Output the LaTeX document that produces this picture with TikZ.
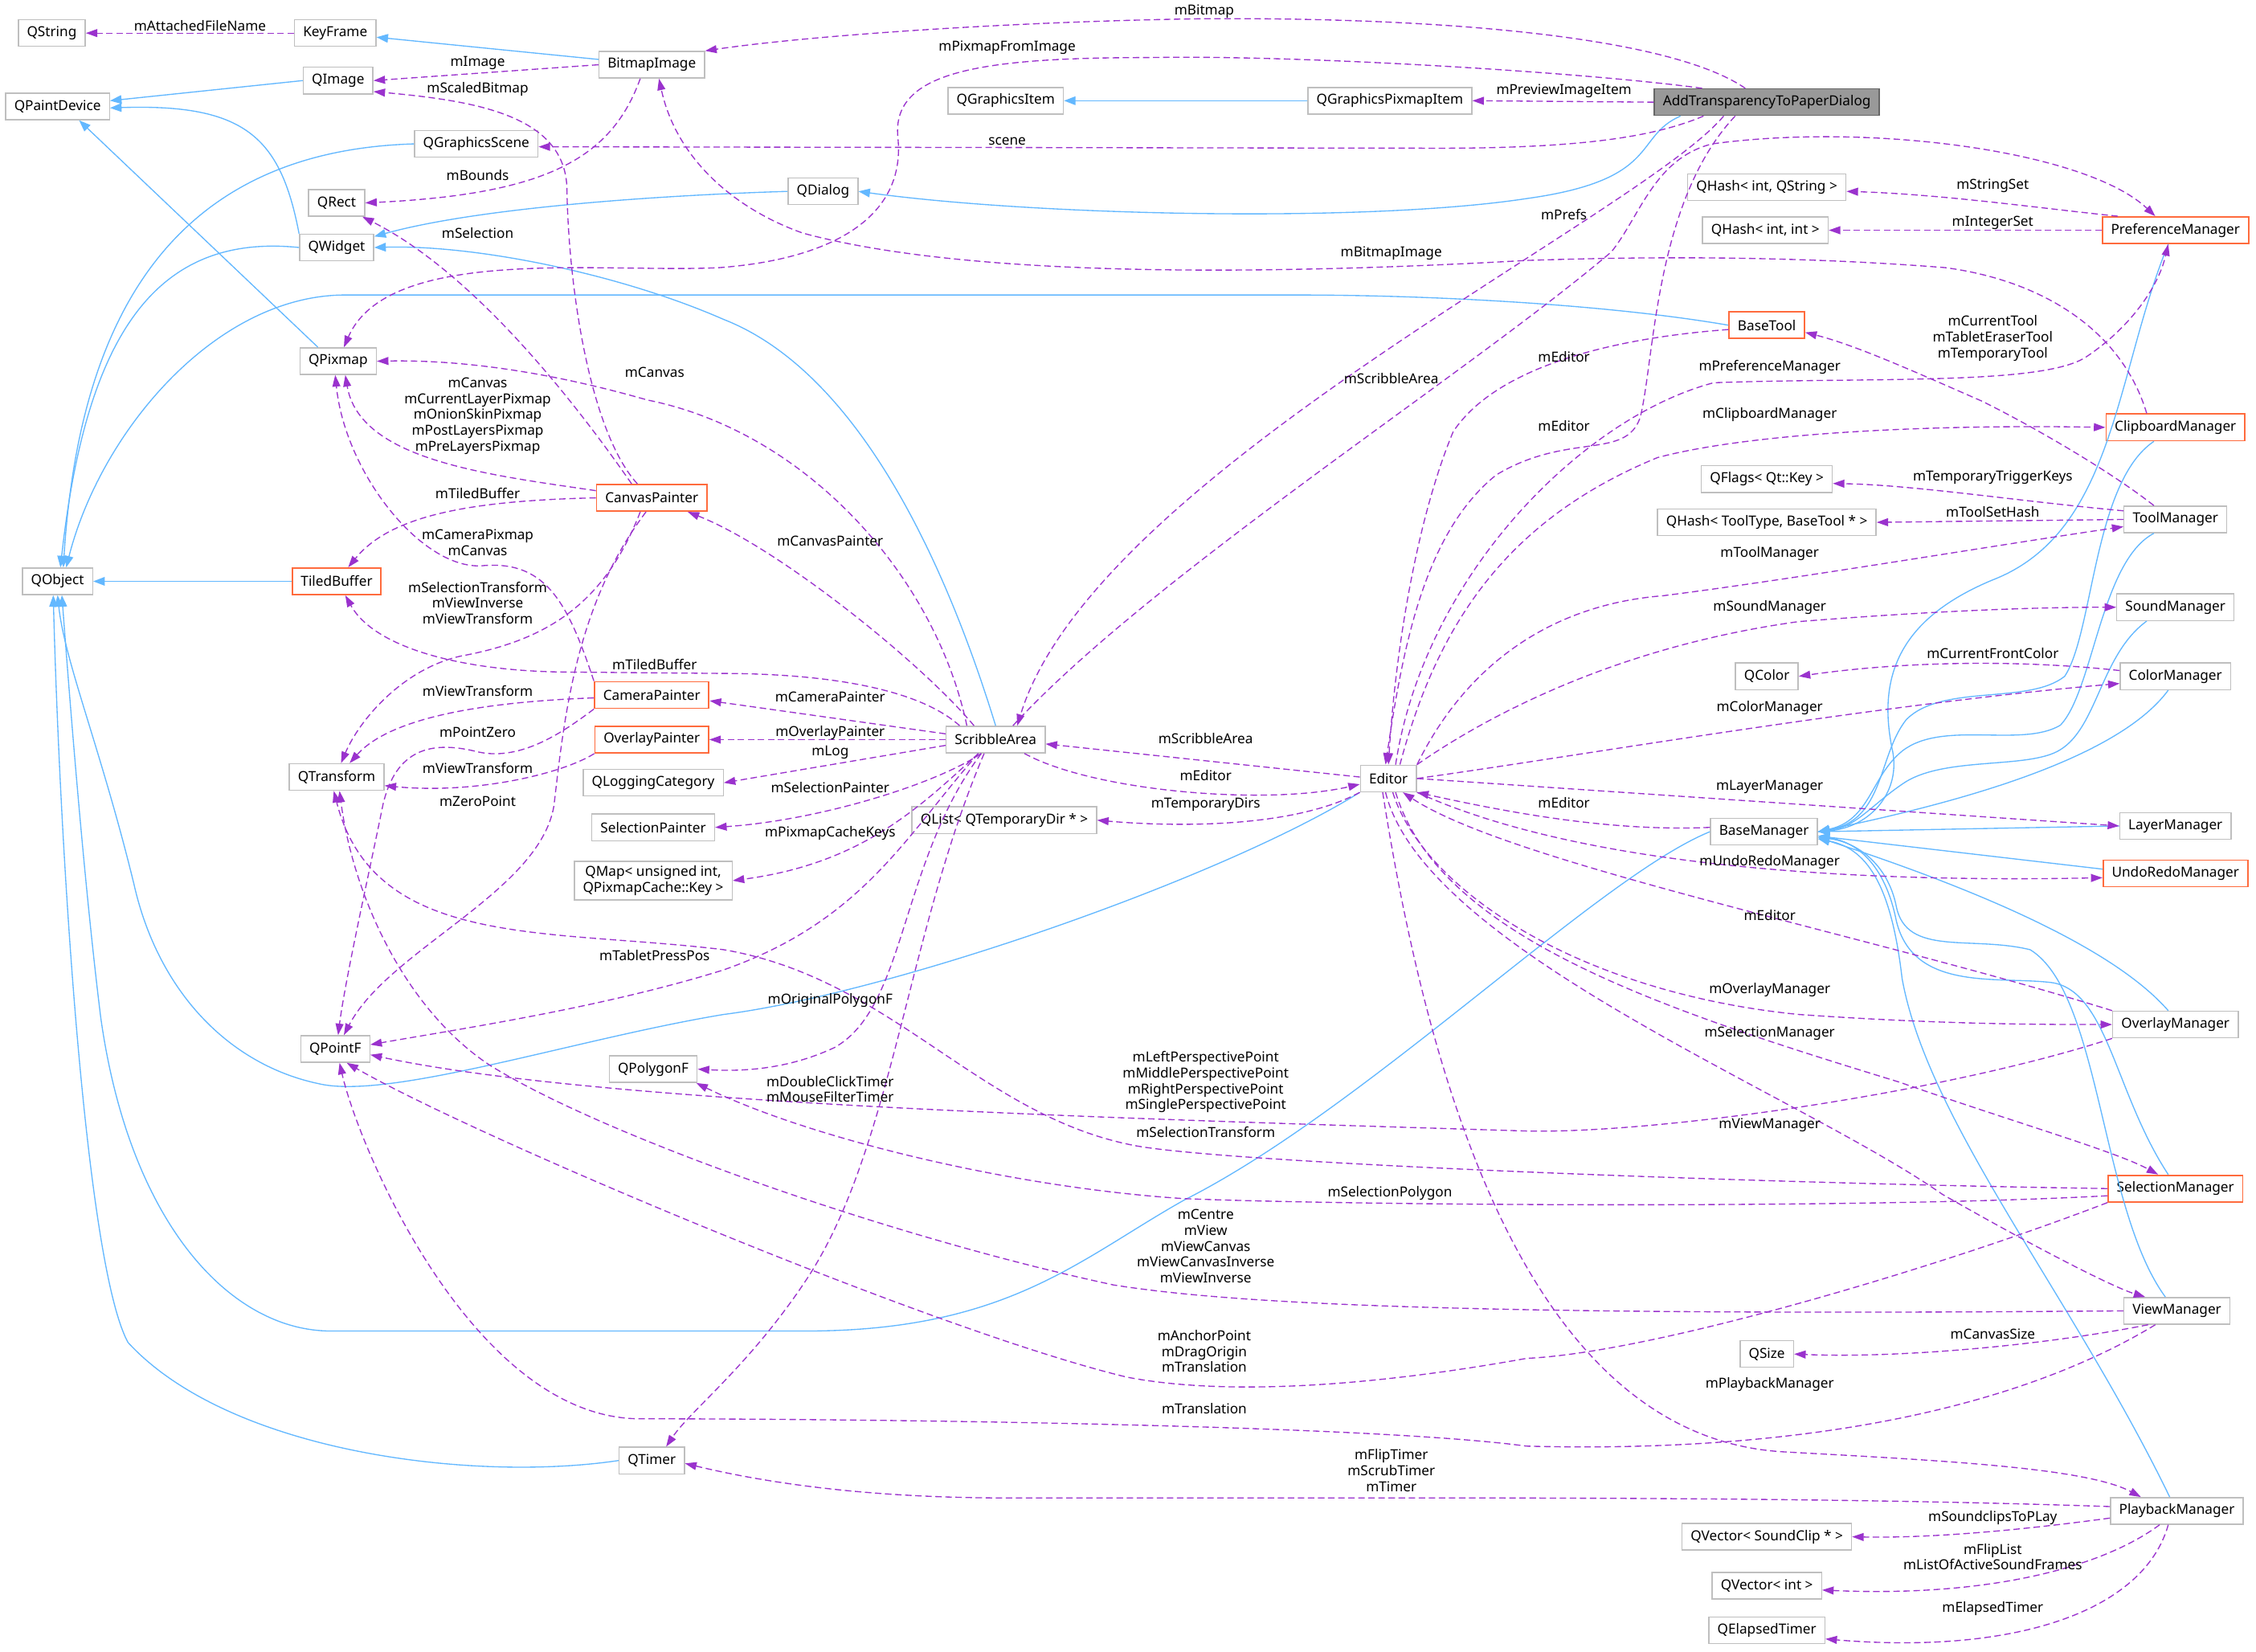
\documentclass[tikz,border=0pt]{standalone}
\usepackage{fontspec}
\setmainfont{Noto Sans}
\usetikzlibrary{arrows.meta}
\definecolor{inhblue}{HTML}{63B8FF}
\definecolor{usepurple}{HTML}{9A32CD}
\definecolor{boxgray}{HTML}{BFBFBF}
\definecolor{boxred}{HTML}{FF6B3D}
\definecolor{mainfill}{HTML}{999999}
\definecolor{mainline}{HTML}{666666}
\begin{document}
\begin{tikzpicture}[x=1pt,y=-1pt,font=\fontsize{9.6}{11}\selectfont,
cls/.style={draw=boxgray,line width=0.8pt,fill=white,inner xsep=6pt,inner ysep=2pt,minimum height=18.5pt},
clsred/.style={cls,draw=boxred,line width=1pt},
clsmain/.style={cls,draw=mainline,fill=mainfill},
lbl/.style={align=center,inner sep=0pt},
inh/.style={draw=inhblue,line width=0.75pt,-{Triangle[length=8pt,width=6pt]}},
use/.style={draw=usepurple,line width=0.75pt,dash pattern=on 4.5pt off 2.5pt,-{Triangle[length=8pt,width=5.5pt]}}]
\useasboundingbox (0,0) rectangle (1568,1148);
\fill[white] (0,0) rectangle (1568,1148);
% classes
\node[cls] (qstring) at (36,23) {QString};
\node[cls] (keyframe) at (233,23) {KeyFrame};
\node[cls] (bitmap) at (453,45) {BitmapImage};
\node[cls] (qimage) at (235,56) {QImage};
\node[cls] (qpaintdev) at (40,74) {QPaintDevice};
\node[cls] (qgitem) at (699,70) {QGraphicsItem};
\node[cls] (qgpixitem) at (966,70) {QGraphicsPixmapItem};
\node[clsmain] (atpd) at (1228,71) {AddTransparencyToPaperDialog};
\node[cls] (qgscene) at (331,100) {QGraphicsScene};
\node[cls] (qrect) at (234,141) {QRect};
\node[cls] (qdialog) at (572,133) {QDialog};
\node[cls] (qwidget) at (234,172) {QWidget};
\node[cls] (qhashstr) at (1228,130) {QHash< int, QString >};
\node[cls] (qhashint) at (1227,160) {QHash< int, int >};
\node[clsred] (prefmgr) at (1512,160) {PreferenceManager};
\node[clsred] (basetool) at (1228,226) {BaseTool};
\node[cls] (qpixmap) at (235,251) {QPixmap};
\node[clsred] (clipmgr) at (1512,297) {ClipboardManager};
\node[clsred] (canvaspnt) at (453,346) {CanvasPainter};
\node[cls] (qflags) at (1228,333) {QFlags< Qt::Key >};
\node[cls] (qhashtool) at (1228,363) {QHash< ToolType, BaseTool * >};
\node[cls] (toolmgr) at (1512,361) {ToolManager};
\node[cls] (qobject) at (40,404) {QObject};
\node[clsred] (tiledbuf) at (234,404) {TiledBuffer};
\node[cls] (soundmgr) at (1512,422) {SoundManager};
\node[cls] (qcolor) at (1228,470) {QColor};
\node[cls] (colormgr) at (1512,470) {ColorManager};
\node[clsred] (camerapnt) at (453,483) {CameraPainter};
\node[clsred] (overlaypnt) at (453,514) {OverlayPainter};
\node[cls] (scribble) at (692,514) {ScribbleArea};
\node[cls] (editor) at (965,541) {Editor};
\node[cls] (qtransform) at (234,540) {QTransform};
\node[cls] (qlogcat) at (454,544) {QLoggingCategory};
\node[cls] (selpnt) at (454,575) {SelectionPainter};
\node[cls] (qlisttmp) at (698,570) {QList< QTemporaryDir * >};
\node[cls] (basemgr) at (1226,578) {BaseManager};
\node[cls] (layermgr) at (1512,574) {LayerManager};
\node[clsred] (undomgr) at (1512,607) {UndoRedoManager};
\node[cls,align=center,inner ysep=3pt] (qmap) at (454,612) {QMap< unsigned int,\\QPixmapCache::Key >};
\node[cls] (qpointf) at (233,729) {QPointF};
\node[cls] (qpolygonf) at (454,743) {QPolygonF};
\node[cls] (overlaymgr) at (1512,712) {OverlayManager};
\node[clsred] (selmgr) at (1512,826) {SelectionManager};
\node[cls] (viewmgr) at (1513,911) {ViewManager};
\node[cls] (qsize) at (1228,941) {QSize};
\node[cls] (qtimer) at (453,1015) {QTimer};
\node[cls] (playmgr) at (1513,1050) {PlaybackManager};
\node[cls] (qvecsnd) at (1228,1068) {QVector< SoundClip * >};
\node[cls] (qvecint) at (1228,1102) {QVector< int >};
\node[cls] (qelapsed) at (1228,1133) {QElapsedTimer};
% inheritance
\draw[inh] (bitmap) -- (keyframe);
\draw[inh] (qimage.west) -- ([yshift=4pt]qpaintdev.east);
\draw[inh] (qwidget.north west) .. controls (195,95) and (170,72) .. ([yshift=-1pt]qpaintdev.east);
\draw[inh] ([xshift=-14pt]qpixmap.north) -- ([xshift=15pt]qpaintdev.south);
\draw[inh] (qgpixitem) -- (qgitem);
\draw[inh] (qgscene.west) .. controls (120,105) and (55,220) .. ([xshift=4pt]qobject.north);
\draw[inh] (qwidget.west) .. controls (110,162) and (60,230) .. ([xshift=2pt]qobject.north);
\draw[inh] (basetool.west) .. controls (1120,212) and (1000,205) .. (900,205) -- (240,205) .. controls (150,205) and (70,300) .. ([xshift=6pt]qobject.north);
\draw[inh] (tiledbuf) -- (qobject);
\draw[inh] (qdialog.west) .. controls (450,136) and (330,145) .. ([yshift=-2pt]qwidget.north east);
\draw[inh] ([xshift=-60pt]atpd.south) .. controls (1135,95) and (1155,125) .. (1061,138) .. controls (950,155) and (720,150) .. (qdialog.east);
\draw[inh] (scribble.north) .. controls (660,400) and (600,260) .. (503,222) .. controls (430,190) and (330,170) .. (qwidget.east);
\draw[inh] (editor.south west) .. controls (850,610) and (620,690) .. (503,705) .. controls (400,722) and (270,765) .. (221,753) .. controls (160,740) and (110,690) .. (93,614) .. controls (70,520) and (45,460) .. (qobject.south);
\draw[inh] (basemgr.west) .. controls (1110,610) and (950,770) .. (823,834) .. controls (750,875) and (700,925) .. (560,925) -- (230,925) .. controls (160,925) and (90,850) .. (70,707) .. controls (58,610) and (48,480) .. ([xshift=3pt]qobject.south);
\draw[inh] (qtimer.west) .. controls (330,1030) and (160,1010) .. (89,933) .. controls (60,880) and (42,600) .. ([xshift=-3pt]qobject.south);
\draw[inh] ([xshift=-5pt]prefmgr.south) .. controls (1470,260) and (1470,370) .. (1385,403) .. controls (1320,430) and (1305,470) .. (1315,520) .. controls (1322,550) and (1300,575) .. (basemgr.east);
\draw[inh] ([xshift=-15pt]clipmgr.south) .. controls (1455,335) and (1455,440) .. (1435,470) .. controls (1410,490) and (1350,475) .. (1325,500) .. controls (1305,525) and (1310,570) .. (basemgr.east);
\draw[inh] ([xshift=-15pt]toolmgr.south) .. controls (1460,390) and (1455,480) .. (1432,504) .. controls (1405,520) and (1350,500) .. (1322,522) .. controls (1300,540) and (1300,570) .. (basemgr.east);
\draw[inh] ([xshift=-20pt]soundmgr.south) .. controls (1460,455) and (1458,505) .. (1432,521) .. controls (1410,535) and (1350,525) .. (1322,545) .. controls (1300,560) and (1290,575) .. (basemgr.east);
\draw[inh] ([xshift=-5pt]colormgr.south) .. controls (1470,530) and (1350,560) .. (basemgr.east);
\draw[inh] (layermgr.west) -- (basemgr.east);
\draw[inh] ([yshift=3pt]undomgr.west) -- ([yshift=-3pt]basemgr.east);
\draw[inh] ([xshift=-5pt]overlaymgr.north) .. controls (1470,660) and (1380,620) .. ([yshift=-4pt]basemgr.east);
\draw[inh] ([xshift=-5pt]selmgr.north) .. controls (1470,760) and (1465,690) .. (1427,683) .. controls (1390,678) and (1330,690) .. (1318,640) .. controls (1310,600) and (1290,585) .. ([yshift=-3pt]basemgr.east);
\draw[inh] ([xshift=-8pt]viewmgr.north) .. controls (1460,840) and (1460,690) .. (1411,660) .. controls (1370,650) and (1325,665) .. (1318,630) .. controls (1312,600) and (1290,585) .. ([yshift=-4pt]basemgr.east);
\draw[inh] ([xshift=-5pt]playmgr.north) .. controls (1440,900) and (1340,780) .. (1322,680) .. controls (1315,620) and (1300,590) .. ([yshift=-5pt]basemgr.east);
% members, top
\draw[use] (keyframe) -- (qstring);
\draw[use] (bitmap.west) -- (qimage.east);
\draw[use] ([xshift=-10pt]canvaspnt.north) .. controls (410,300) and (395,200) .. (394,130) .. controls (392,80) and (330,70) .. ([yshift=2pt]qimage.south east);
\draw[use] ([xshift=-8pt]bitmap.south) .. controls (425,110) and (380,135) .. (qrect.east);
\draw[use] ([xshift=-15pt]atpd.north) .. controls (1160,25) and (1000,12) .. (837,13) .. controls (700,15) and (560,25) .. (bitmap.north east);
\draw[use] ([xshift=-45pt]atpd.north) .. controls (1100,50) and (900,38) .. (799,40) .. controls (680,40) and (620,50) .. (624,95) .. controls (630,150) and (580,180) .. (500,186) .. controls (420,190) and (270,170) .. ([xshift=4pt]qpixmap.north);
\draw[use] (atpd.west) -- (qgpixitem.east);
\draw[use] ([xshift=-44pt]atpd.south) .. controls (1150,95) and (1100,103) .. (1000,103) -- ([yshift=-2pt]qgscene.east);
\draw[use] ([xshift=12pt]scribble.north) .. controls (800,400) and (1020,260) .. (1120,175) .. controls (1140,150) and (1150,110) .. (1190,100) .. controls (1300,85) and (1450,105) .. ([xshift=-14pt]prefmgr.north);
\draw[use] ([xshift=-30pt]atpd.south) .. controls (1140,150) and (760,330) .. ([xshift=15pt]scribble.north);
\draw[use] ([xshift=-22pt]atpd.south) .. controls (1150,140) and (1150,250) .. (1140,290) .. controls (1130,320) and (1090,300) .. (1040,330) .. controls (990,370) and (975,450) .. ([xshift=-2pt]editor.north);
\draw[use] ([yshift=-3pt]basetool.west) .. controls (1120,235) and (1040,255) .. (1010,300) .. controls (985,360) and (970,450) .. (editor.north);
\draw[use] ([xshift=-20pt]clipmgr.north) .. controls (1475,230) and (1420,195) .. (1352,186) .. controls (1250,178) and (1150,178) .. (1061,181) .. controls (900,190) and (680,195) .. (558,162) .. controls (510,145) and (470,110) .. ([xshift=5pt]bitmap.south);
\draw[use] ([xshift=-40pt]prefmgr.north) .. controls (1420,145) and (1350,135) .. ([yshift=-3pt]qhashstr.east);
\draw[use] (prefmgr.west) -- (qhashint.east);
\draw[use] ([xshift=-15pt]toolmgr.north) .. controls (1470,330) and (1420,300) .. (1378,279) .. controls (1330,258) and (1290,240) .. ([yshift=-5pt]basetool.east);
\draw[use] ([yshift=6pt]toolmgr.west) .. controls (1400,348) and (1330,337) .. ([yshift=-3pt]qflags.east);
\draw[use] (toolmgr.west) -- (qhashtool.east);
\draw[use] ([yshift=4pt]colormgr.west) .. controls (1400,458) and (1320,460) .. (qcolor.east);
% members of Editor
\draw[use] ([xshift=5pt]editor.north) .. controls (990,400) and (1100,290) .. (1191,266) .. controls (1300,262) and (1420,268) .. (1450,248) .. controls (1480,228) and (1500,200) .. ([xshift=-5pt]prefmgr.south);
\draw[use] ([xshift=8pt]editor.north) .. controls (1000,430) and (1050,360) .. (1152,318) .. controls (1220,300) and (1350,295) .. (clipmgr.west);
\draw[use] (editor.north east) .. controls (1020,460) and (1080,420) .. (1156,414) .. controls (1250,402) and (1380,380) .. ([yshift=-5pt]toolmgr.west);
\draw[use] (editor.north east) .. controls (1030,500) and (1120,450) .. (1250,432) .. controls (1350,424) and (1420,422) .. (soundmgr.west);
\draw[use] (editor.east) .. controls (1100,525) and (1300,490) .. ([yshift=-5pt]colormgr.west);
\draw[use] (editor.east) -- (layermgr.west);
\draw[use] (editor.south east) .. controls (1060,585) and (1200,615) .. ([yshift=-3pt]undomgr.west);
\draw[use] ([yshift=3pt]basemgr.west) .. controls (1120,578) and (1050,565) .. (editor.south east);
\draw[use] (overlaymgr.north west) .. controls (1300,650) and (1050,600) .. ([xshift=10pt]editor.south);
\draw[use] ([xshift=3pt]editor.south) .. controls (990,620) and (1100,690) .. (1250,705) .. controls (1350,712) and (1420,712) .. (overlaymgr.west);
\draw[use] ([xshift=5pt]editor.south) .. controls (1000,650) and (1150,700) .. (1320,752) .. controls (1400,780) and (1470,800) .. ([xshift=-12pt]selmgr.north);
\draw[use] ([xshift=-2pt]editor.south) .. controls (990,660) and (1250,760) .. (1350,830) .. controls (1420,870) and (1470,895) .. ([xshift=-22pt]viewmgr.north);
\draw[use] ([xshift=-4pt]editor.south) .. controls (1000,800) and (1080,1000) .. (1240,1009) .. controls (1350,1015) and (1450,1020) .. ([xshift=-25pt]playmgr.north);
\draw[use] ([yshift=1pt]editor.west) -- ([yshift=-3pt]scribble.east);
\draw[use] ([xshift=20pt]scribble.south) .. controls (760,550) and (880,560) .. ([yshift=-4pt]editor.west);
\draw[use] (editor.south west) .. controls (900,575) and (820,575) .. (qlisttmp.east);
% members of ScribbleArea
\draw[use] ([xshift=-15pt]scribble.north) .. controls (640,460) and (540,380) .. ([xshift=25pt]canvaspnt.south);
\draw[use] ([xshift=-20pt]scribble.north) .. controls (650,400) and (560,300) .. (450,278) .. controls (380,258) and (320,250) .. (qpixmap.east);
\draw[use] ([xshift=-25pt]scribble.north) .. controls (640,480) and (580,468) .. (500,468) -- (390,467) .. controls (320,466) and (260,450) .. ([xshift=6pt]tiledbuf.south);
\draw[use] ([yshift=4pt]scribble.west) -- ([yshift=-4pt]camerapnt.east);
\draw[use] (scribble.west) -- (overlaypnt.east);
\draw[use] ([yshift=-4pt]scribble.west) -- (qlogcat.east);
\draw[use] ([xshift=-10pt]scribble.south) .. controls (650,545) and (570,570) .. (selpnt.east);
\draw[use] ([xshift=-12pt]scribble.south) .. controls (640,560) and (600,600) .. (qmap.east);
\draw[use] ([xshift=-12pt]scribble.south) .. controls (630,580) and (600,640) .. (503,674) .. controls (420,700) and (320,715) .. ([yshift=3pt]qpointf.east);
\draw[use] ([xshift=-10pt]scribble.south) .. controls (625,600) and (630,700) .. (580,728) .. controls (550,742) and (520,745) .. (qpolygonf.east);
\draw[use] ([xshift=-8pt]scribble.south) .. controls (630,650) and (620,800) .. (560,890) .. controls (520,950) and (480,980) .. ([xshift=10pt]qtimer.north);
% members of the painters
\draw[use] ([yshift=5pt]canvaspnt.west) .. controls (340,330) and (250,320) .. ([xshift=5pt]qpixmap.south);
\draw[use] (canvaspnt.west) .. controls (320,348) and (270,360) .. ([xshift=8pt]tiledbuf.north);
\draw[use] ([xshift=-14pt]canvaspnt.north) .. controls (400,280) and (330,190) .. ([xshift=-2pt]qrect.south east);
\draw[use] ([xshift=-8pt]canvaspnt.south) .. controls (420,420) and (380,445) .. (320,456) .. controls (280,465) and (250,500) .. ([xshift=3pt]qtransform.north);
\draw[use] ([xshift=-4pt]canvaspnt.south) .. controls (400,420) and (392,500) .. (385,560) .. controls (375,620) and (270,660) .. ([xshift=6pt]qpointf.north);
\draw[use] (camerapnt.north west) .. controls (395,420) and (380,390) .. (337,393) .. controls (295,398) and (240,330) .. ([xshift=-2pt]qpixmap.south);
\draw[use] ([yshift=-2pt]camerapnt.west) .. controls (330,488) and (270,500) .. ([xshift=9pt]qtransform.north);
\draw[use] (camerapnt.south west) .. controls (390,510) and (360,530) .. (330,522) .. controls (300,515) and (275,520) .. (266,560) .. controls (258,600) and (240,680) .. ([xshift=2pt]qpointf.north);
\draw[use] (overlaypnt.south west) .. controls (390,538) and (330,552) .. ([yshift=-6pt]qtransform.east);
% members of the managers
\draw[use] ([xshift=-20pt]viewmgr.south) .. controls (1420,935) and (1320,944) .. (qsize.east);
\draw[use] (viewmgr.west) .. controls (1000,915) and (850,905) .. (774,893) .. controls (620,860) and (420,790) .. (340,740) .. controls (280,700) and (245,620) .. ([xshift=2pt]qtransform.south);
\draw[use] ([xshift=-15pt]viewmgr.south) .. controls (1400,980) and (1250,1010) .. (1061,1005) .. controls (950,990) and (600,986) .. (445,986) .. controls (330,986) and (250,800) .. ([xshift=3pt]qpointf.south);
\draw[use] (selmgr.west) .. controls (1200,822) and (850,808) .. (788,796) .. controls (680,775) and (620,680) .. (503,660) .. controls (380,645) and (260,660) .. ([xshift=-2pt]qtransform.south);
\draw[use] ([yshift=-5pt]selmgr.west) .. controls (1300,840) and (950,838) .. (823,833) .. controls (700,825) and (560,790) .. ([xshift=-1pt]qpolygonf.south east);
\draw[use] (selmgr.south west) .. controls (1350,880) and (1150,940) .. (1061,944) .. controls (950,964) and (850,970) .. (783,957) .. controls (650,925) and (330,790) .. ([xshift=8pt]qpointf.south);
\draw[use] (overlaymgr.south west) .. controls (1350,760) and (1150,788) .. (1061,786) .. controls (800,778) and (420,768) .. ([yshift=-4pt]qpointf.east);
\draw[use] ([yshift=3pt]playmgr.west) .. controls (1350,1043) and (1200,1041) .. (1000,1041) -- (700,1041) .. controls (600,1041) and (530,1030) .. ([yshift=-2pt]qtimer.east);
\draw[use] ([yshift=-5pt]playmgr.west) .. controls (1400,1064) and (1340,1069) .. (qvecsnd.east);
\draw[use] ([xshift=-12pt]playmgr.south) .. controls (1460,1090) and (1380,1110) .. ([yshift=-3pt]qvecint.east);
\draw[use] ([xshift=-6pt]playmgr.south) .. controls (1490,1120) and (1400,1150) .. ([yshift=-6pt]qelapsed.east);
% labels
\node[lbl] (l-attached) at (139,18) {mAttachedFileName};
\node[lbl] (l-image) at (332,44) {mImage};
\node[lbl] (l-scaled) at (332,62) {mScaledBitmap};
\node[lbl] (l-bounds) at (332,122) {mBounds};
\node[lbl] (l-selection) at (332,162) {mSelection};
\node[lbl] (l-canvas5) at (332,289) {mCanvas\\mCurrentLayerPixmap\\mOnionSkinPixmap\\mPostLayersPixmap\\mPreLayersPixmap};
\node[lbl] (l-tiled1) at (332,343) {mTiledBuffer};
\node[lbl] (l-campix) at (332,377) {mCameraPixmap\\mCanvas};
\node[lbl] (l-seltr3) at (332,419) {mSelectionTransform\\mViewInverse\\mViewTransform};
\node[lbl] (l-viewtr1) at (332,480) {mViewTransform};
\node[lbl] (l-pointzero) at (332,509) {mPointZero};
\node[lbl] (l-viewtr2) at (332,534) {mViewTransform};
\node[lbl] (l-zeropoint) at (332,557) {mZeroPoint};
\node[lbl] (l-canvas) at (455,259) {mCanvas};
\node[lbl] (l-tiled2) at (455,462) {mTiledBuffer};
\node[lbl] (l-tablet) at (455,664) {mTabletPressPos};
\node[lbl] (l-canvaspnt) at (577,376) {mCanvasPainter};
\node[lbl] (l-camerapnt) at (577,484) {mCameraPainter};
\node[lbl] (l-overlaypnt) at (577,509) {mOverlayPainter};
\node[lbl] (l-log) at (577,523) {mLog};
\node[lbl] (l-selpnt) at (577,547) {mSelectionPainter};
\node[lbl] (l-pixcache) at (577,579) {mPixmapCacheKeys};
\node[lbl] (l-origpoly) at (577,695) {mOriginalPolygonF};
\node[lbl] (l-timers) at (577,757) {mDoubleClickTimer\\mMouseFilterTimer};
\node[lbl] (l-pixfromimg) at (700,33) {mPixmapFromImage};
\node[lbl] (l-scene) at (700,98) {scene};
\node[lbl] (l-bitmap) at (837,8) {mBitmap};
\node[lbl] (l-scribble1) at (838,513) {mScribbleArea};
\node[lbl] (l-editor1) at (838,539) {mEditor};
\node[lbl] (l-tmpdirs) at (838,559) {mTemporaryDirs};
\node[lbl] (l-persp) at (838,752) {mLeftPerspectivePoint\\mMiddlePerspectivePoint\\mRightPerspectivePoint\\mSinglePerspectivePoint};
\node[lbl] (l-seltr) at (838,787) {mSelectionTransform};
\node[lbl] (l-view5) at (838,866) {mCentre\\mView\\mViewCanvas\\mViewCanvasInverse\\mViewInverse};
\node[lbl] (l-anchor) at (837,939) {mAnchorPoint\\mDragOrigin\\mTranslation};
\node[lbl] (l-transl) at (837,979) {mTranslation};
\node[lbl] (l-bitmapimg) at (967,176) {mBitmapImage};
\node[lbl] (l-scribble2) at (967,263) {mScribbleArea};
\node[lbl] (l-selpoly) at (966,829) {mSelectionPolygon};
\node[lbl] (l-timers2) at (967,1022) {mFlipTimer\\mScrubTimer\\mTimer};
\node[lbl] (l-preview) at (1087,63) {mPreviewImageItem};
\node[lbl] (l-prefs) at (1087,149) {mPrefs};
\node[lbl] (l-editor2) at (1087,248) {mEditor};
\node[lbl] (l-editor3) at (1087,296) {mEditor};
\node[lbl] (l-editor4) at (1087,558) {mEditor};
\node[lbl] (l-prefmgr) at (1230,255) {mPreferenceManager};
\node[lbl] (l-clipmgr) at (1230,288) {mClipboardManager};
\node[lbl] (l-toolmgr) at (1230,385) {mToolManager};
\node[lbl] (l-soundmgr) at (1230,422) {mSoundManager};
\node[lbl] (l-colormgr) at (1230,492) {mColorManager};
\node[lbl] (l-layermgr) at (1230,547) {mLayerManager};
\node[lbl] (l-undomgr) at (1230,599) {mUndoRedoManager};
\node[lbl] (l-editor5) at (1230,636) {mEditor};
\node[lbl] (l-overlaymgr) at (1230,688) {mOverlayManager};
\node[lbl] (l-selmgr) at (1230,718) {mSelectionManager};
\node[lbl] (l-viewmgr) at (1230,782) {mViewManager};
\node[lbl] (l-playmgr) at (1230,962) {mPlaybackManager};
\node[lbl] (l-strset) at (1385,129) {mStringSet};
\node[lbl] (l-intset) at (1385,155) {mIntegerSet};
\node[lbl] (l-tools) at (1385,235) {mCurrentTool\\mTabletEraserTool\\mTemporaryTool};
\node[lbl] (l-trigger) at (1385,332) {mTemporaryTriggerKeys};
\node[lbl] (l-toolset) at (1385,356) {mToolSetHash};
\node[lbl] (l-frontcolor) at (1385,454) {mCurrentFrontColor};
\node[lbl] (l-canvassize) at (1385,927) {mCanvasSize};
\node[lbl] (l-soundclips) at (1385,1055) {mSoundclipsToPLay};
\node[lbl] (l-fliplist) at (1385,1082) {mFlipList\\mListOfActiveSoundFrames};
\node[lbl] (l-elapsed) at (1385,1118) {mElapsedTimer};
\end{tikzpicture}
\end{document}
